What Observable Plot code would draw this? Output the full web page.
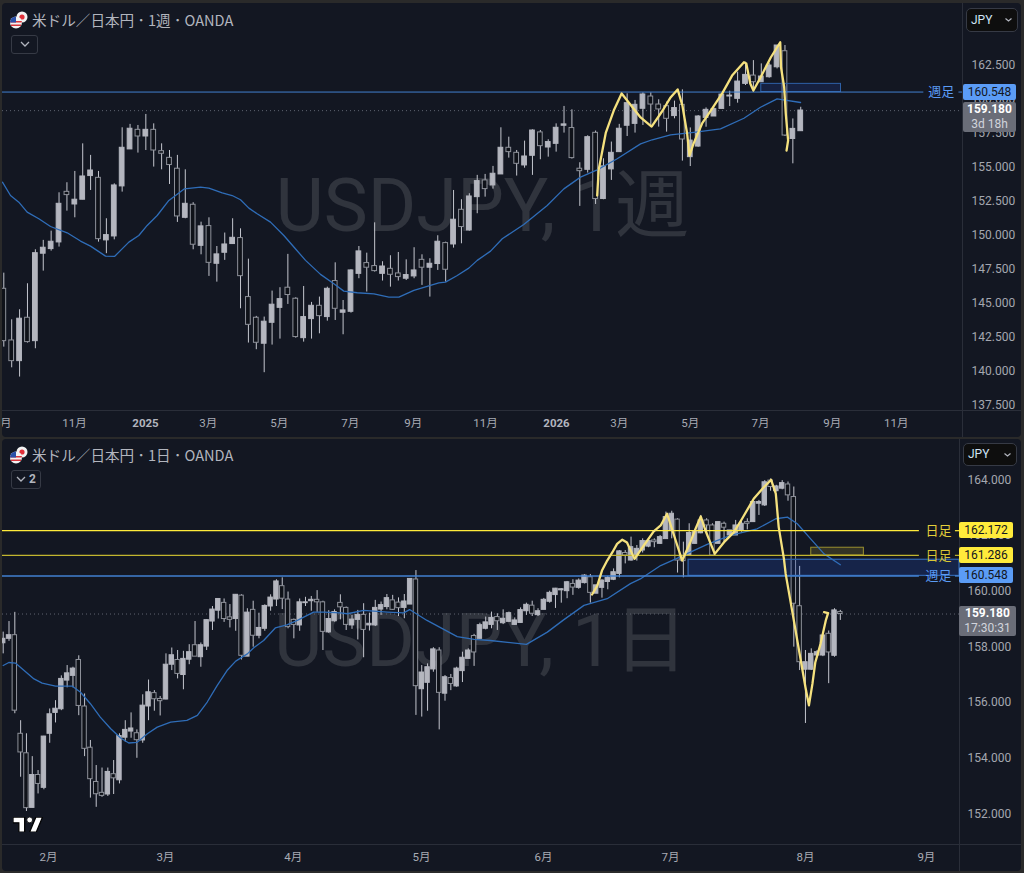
<!DOCTYPE html>
<html lang="ja">
<head>
<meta charset="utf-8">
<script src="https://cdn.jsdelivr.net/npm/d3@7"></script>
<script src="https://cdn.jsdelivr.net/npm/@observablehq/plot@0.6"></script>
<style>
html,body{margin:0;padding:0;background:#2a2a2a;}
#root{position:relative;width:1024px;height:873px;overflow:hidden;background:#2a2a2a;font-family:Roboto,"Noto Sans CJK JP",sans-serif;}
.pane{position:absolute;left:2px;width:1019px;background:#131722;border-radius:4px;}
#root svg.chart{position:absolute;left:0;}
.div{position:absolute;background:#2a2e39;}
.tag{position:absolute;box-sizing:border-box;font-size:12px;text-align:center;border-radius:2px;line-height:16px;}
.title{position:absolute;left:32px;font-size:14.6px;line-height:20px;color:#b2b5be;font-family:"Noto Sans CJK JP",sans-serif;white-space:nowrap;}
.btn{position:absolute;box-sizing:border-box;border:1px solid #363a45;border-radius:3px;color:#b2b5be;font-size:12px;}
.cur{position:absolute;box-sizing:border-box;border:1px solid #363a45;border-radius:5px;background:#0e0e0e;color:#cfe3f5;font-size:12px;padding-left:4px;}
</style>
</head>
<body>
<div id="root"></div>
<script>
// ---------- weekly panel ----------
const wkOpen=[146.08,142.28,140.76,143.95,142.23,148.66,149.00,149.49,153.21,152.28,
152.63,154.37,154.24,149.64,149.93,153.61,156.33,157.77,157.28,157.77,
156.20,155.71,154.91,151.30,152.26,149.24,150.69,147.92,148.73,149.37,
149.81,145.47,143.95,142.04,143.58,144.68,146.16,145.35,142.45,143.85,
144.83,144.00,146.65,144.32,144.39,147.18,147.97,147.75,147.18,147.55,
147.21,146.82,146.99,148.21,147.63,147.90,149.44,149.34,151.89,150.37,
152.82,154.05,153.68,154.49,156.45,156.08,155.15,155.86,157.58,156.47,
156.74,158.07,157.90,154.91,154.83,157.55,152.68,154.86,156.13,158.07,
158.21,159.32,160.22,159.63,159.51,158.78,159.61,155.76,156.54,158.65,
158.75,159.31,160.22,160.05,161.15,161.76,161.27,161.64,162.37,163.55,
157.10,157.67];
const wkClose=[142.23,140.76,143.88,142.16,148.70,149.10,149.54,152.33,152.97,152.63,
154.34,154.78,149.73,150.03,153.68,156.45,157.85,157.28,157.77,156.25,
156.01,155.18,151.40,152.33,149.32,150.67,147.99,148.61,149.34,149.83,
147.01,143.43,142.11,143.66,144.91,145.32,145.62,142.53,144.00,144.83,
144.07,146.08,144.61,144.49,147.43,148.83,147.63,147.38,147.72,147.11,
146.94,147.09,147.43,147.63,147.92,149.54,147.48,151.16,150.62,152.87,
154.00,153.41,154.54,156.45,156.13,155.27,155.81,157.72,156.57,156.87,
157.92,158.17,155.69,154.73,157.23,152.68,155.08,156.08,157.85,159.73,
159.61,160.37,159.63,159.27,158.58,159.37,157.06,156.98,158.75,159.24,
159.29,160.36,160.29,161.32,161.81,161.27,161.69,162.50,163.97,157.35,
157.84,159.19];
const wkHigh=[147.23,143.80,144.54,146.45,148.95,149.64,150.32,153.14,153.88,154.71,
156.74,155.89,154.71,151.23,153.80,157.92,158.17,158.09,158.90,158.21,
156.74,156.25,155.89,154.83,152.41,150.98,151.30,149.19,150.18,151.23,
150.49,148.26,144.05,144.00,145.91,146.16,148.61,145.42,146.25,145.08,
145.47,146.20,147.99,145.22,147.48,149.19,148.70,150.93,148.07,148.51,
148.75,148.21,149.10,148.58,148.29,149.98,149.51,153.31,152.63,153.07,
154.42,154.49,155.08,157.92,157.23,156.25,156.94,157.77,157.72,157.04,
158.21,159.49,159.24,155.35,157.33,157.68,155.64,156.87,158.17,160.42,
159.93,160.49,160.49,159.98,159.81,159.88,160.71,157.91,158.82,159.38,
159.38,160.41,160.61,162.01,162.74,162.86,162.62,162.67,163.97,163.97,
158.57,159.43];
const wkLow=[141.79,140.27,139.59,142.09,141.67,147.38,148.85,149.15,151.79,151.30,
152.63,153.31,149.51,148.66,149.68,153.19,156.33,156.06,156.25,155.03,
154.83,153.75,150.96,151.23,148.95,148.58,146.99,146.57,148.17,149.34,
144.61,142.09,141.60,139.91,141.94,142.38,144.93,142.45,142.16,142.38,
142.77,143.70,143.75,142.70,144.29,146.82,145.84,147.31,146.65,146.20,
146.65,146.69,146.82,146.33,145.47,147.43,146.57,149.07,149.39,150.32,
151.60,152.82,153.41,154.49,155.69,154.37,154.95,154.42,155.57,155.76,
156.13,157.53,155.62,152.14,154.59,152.28,152.63,154.05,156.13,157.28,
157.53,158.09,158.09,157.97,157.60,158.58,155.47,155.07,156.49,157.96,
158.75,159.31,159.48,159.73,161.03,160.54,161.27,161.57,162.25,157.28,
155.27,157.67];
const wkMaPos=[-0.17,0.85,1.9,2.96,4.44,5.92,8.03,9.72,10.99,12.89,14.03,15.85,17.11,18.17,19.44,20.92,22.9,24.93,25.99,27.68,28.94,30,31.06,32.11,33.8,35.49,36.76,38.24,40.14,41.83,43.09,44.79,46.9,48.8,50.07,51.97,54.08,55.13,55.98,57.47,58.93,60,61.69,63.17,65.9,68.87,70.98,73.09,75.2,77.74,80.7,82.18,84.5,87.45,90.83,93.8,95.9,98,100.98];
const wkMaVal=[153.92,152.94,152.45,151.72,151.23,150.66,150.2,149.59,149.22,148.48,148.46,149.51,150,150.74,151.47,152.58,153.43,153.56,153.48,153.14,152.94,152.63,152.01,151.6,150.98,150,149.15,148.17,147.14,146.45,145.91,145.79,145.71,145.47,145.47,145.96,146.33,146.52,146.57,147.06,147.6,148.17,148.85,149.76,150.81,152.21,153.43,154.29,154.83,155.64,156.74,157.04,157.4,157.59,157.84,158.62,159.43,160.05,159.78];
const wkPenPos=[75.2,75.4,76.3,77.3,78.3,79.2,80.7,82.1,83.5,84.5,85.4,86,86.6,86.9,87.4,88.5,89.6,91.1,92.3,93.8,94.1,94.6,95,95.9,97.2,98.4,98.5,98.9,99.1,99.4,99.2];
const wkPenVal=[152.94,154.85,157.57,159.19,160.44,159.78,158.68,158.01,159.19,160.15,160.74,159.56,157.5,155.88,156.74,158.24,159.19,160.51,161.76,162.74,162.65,161.18,160.66,161.62,163.09,164.21,162.37,160.9,158.97,156.99,156.25];
const wkMonthPos=[-0.15,8.96,25.9,34.9,43.9,51.9,61.05,78,87,95.9,105,113.1];
const wkMonthLab=["9月","11月","3月","5月","7月","9月","11月","3月","5月","7月","9月","11月"];
const wkYearPos=[17.96,70.05];
const wkYearLab=["2025","2026"];
const wkPriceTicks=[137.5,140,142.5,145,147.5,150,152.5,155,157.5,160,162.5];
// ---------- daily panel ----------
const dyOpen=[158.13,158.29,158.42,154.88,154.18,152.22,153.40,152.94,154.88,155.63,
155.76,156.79,156.96,157.53,155.86,154.38,153.15,152.76,152.70,153.43,
153.21,154.74,154.96,154.90,154.64,155.86,156.34,156.13,156.11,157.36,
157.53,156.99,157.54,158.06,157.63,158.01,158.91,159.30,159.58,159.06,
159.00,159.84,157.65,159.33,158.40,158.65,159.45,159.70,160.18,159.70,
158.97,158.77,159.57,159.64,159.69,159.60,158.52,158.92,159.58,159.40,
158.77,158.97,159.15,158.77,158.77,159.34,159.43,159.67,159.59,159.40,
159.52,160.42,156.48,156.71,157.19,157.87,156.32,156.88,156.58,157.13,
157.57,158.39,158.29,158.65,158.79,159.07,158.85,158.90,158.79,158.86,
159.28,159.48,159.14,159.33,159.62,159.86,160.03,160.00,160.26,160.12,
160.29,160.50,159.91,160.12,160.33,160.41,160.62,161.37,161.10,161.28,
161.46,161.60,161.82,161.70,161.87,162.18,162.57,161.25,161.28,161.70,
162.08,162.54,162.36,161.70,162.42,162.00,162.00,162.18,162.48,162.48,
163.14,163.08,163.97,163.59,163.68,163.83,163.38,159.46,157.18,157.18,
157.69,157.69,158.47,157.68,159.25];
const dyClose=[158.29,158.42,155.71,154.21,152.21,153.40,153.08,154.78,155.58,155.78,
156.85,157.05,157.22,155.88,154.34,153.25,152.71,152.65,153.51,153.28,
154.80,155.02,155.07,154.65,155.89,156.37,156.12,156.05,157.36,157.70,
157.03,157.57,157.81,157.65,158.06,158.96,159.34,159.72,159.00,158.97,
159.87,157.68,159.23,158.40,158.68,159.47,159.77,160.35,159.73,158.71,
158.79,159.60,159.60,159.69,159.60,158.54,159.00,159.25,159.42,158.79,
158.98,159.15,158.61,158.83,159.40,159.50,159.75,159.33,159.39,159.63,
160.44,156.59,157.08,157.27,157.91,156.35,156.91,156.67,157.22,157.61,
157.87,157.80,158.78,158.88,159.04,158.92,159.01,159.21,158.95,159.32,
159.51,159.19,159.28,159.69,159.94,160.09,160.07,160.32,160.13,160.38,
160.56,159.94,160.21,160.38,160.47,160.68,161.43,161.28,161.58,161.52,
161.80,161.80,161.76,161.94,162.66,162.78,161.10,161.08,162.09,162.12,
162.54,162.36,161.28,162.48,162.28,162.18,162.36,162.42,162.42,163.20,
163.20,163.91,163.74,163.76,163.88,163.44,159.55,157.45,157.45,157.75,
157.81,158.41,157.80,159.31,159.18];
const dyHigh=[158.53,158.91,159.24,155.35,154.88,154.06,153.56,154.79,155.77,156.07,
156.96,157.33,157.27,157.68,156.31,154.64,153.74,153.65,153.65,153.92,
154.88,155.35,155.63,155.02,156.28,156.81,156.43,156.22,157.75,157.96,
157.87,157.84,158.08,158.91,158.14,158.97,159.45,159.72,159.72,159.52,
159.88,159.87,159.37,159.64,159.21,159.51,159.87,160.41,160.48,159.97,
159.00,159.72,159.78,159.81,160.02,159.64,159.30,159.33,159.87,159.43,
159.13,159.31,159.55,159.21,159.67,159.61,159.88,159.85,159.76,159.88,
160.44,160.74,157.33,157.39,157.97,157.97,156.97,157.01,157.27,157.81,
157.93,158.45,158.85,159.07,159.25,159.19,159.33,159.25,159.04,159.40,
159.57,159.64,159.37,159.74,160.00,160.10,160.09,160.35,160.41,160.44,
160.59,160.60,160.21,160.41,160.53,160.80,161.46,161.46,161.94,161.64,
161.88,161.88,161.88,162.00,162.84,162.87,162.60,161.76,162.42,162.18,
162.72,162.60,162.42,162.48,162.48,162.18,162.54,162.54,162.60,163.26,
163.26,163.97,164.03,163.80,163.97,163.92,163.74,160.89,157.87,157.93,
157.87,158.47,158.57,159.37,159.31];
const dyLow=[157.75,158.20,155.60,153.32,152.09,152.22,152.72,152.87,154.54,155.27,
155.71,156.53,156.53,155.53,154.06,152.57,152.24,152.60,152.63,152.70,
153.08,154.58,154.72,154.00,154.54,155.35,155.69,155.52,156.10,157.15,
156.85,156.46,157.36,157.65,157.27,157.87,158.59,159.00,158.88,158.68,
158.56,157.53,157.65,157.99,158.29,158.56,159.28,159.45,159.34,158.65,
158.29,158.56,159.45,159.28,159.24,157.87,158.49,158.89,158.97,158.59,
158.63,158.25,157.61,158.57,158.73,159.13,159.33,159.31,159.09,159.01,
159.52,155.54,155.48,155.69,157.09,155.02,156.05,156.43,156.55,156.72,
157.57,157.30,158.28,158.61,158.65,158.59,158.80,158.88,158.77,158.85,
159.13,159.09,159.09,159.33,159.57,159.38,159.57,159.73,159.85,160.07,
160.26,159.57,159.91,159.75,160.05,160.38,160.48,160.98,161.08,161.08,
161.37,161.56,161.56,161.68,161.87,161.88,160.65,160.48,161.25,161.68,
162.06,162.06,161.28,161.70,161.76,161.94,162.00,162.12,162.20,162.48,
162.72,163.04,163.59,163.56,163.64,163.23,157.99,157.15,155.25,157.15,
157.63,157.65,156.68,157.63,158.95];
const dyMaPos=[0,0.97,2.1,3.3,5.3,6.7,9,11.9,13.3,15,16.7,18.5,20.2,21.6,23,24.8,26.5,28.8,31.6,33.4,35.1,36.8,38.5,40,42,43.1,44.8,46.8,48.8,50.6,53.4,55.2,58,59.2,62,66.1,68.9,69.9,72.9,78.1,81,83.8,90,93.6,96.4,99.9,103.9,107.9,109.6,113.1,115.7,121.1,125.1,129.7,132.9,134.9,136.6,138.9,141.2,144];
const dyMaVal=[157.33,157.44,157.42,157.21,156.85,156.7,156.59,156.59,156.37,155.96,155.48,155.06,154.73,154.55,154.57,154.88,155.12,155.3,155.36,155.54,156.02,156.61,157.15,157.49,157.75,157.97,158.23,158.68,158.79,158.95,159.25,159.25,159.22,159.19,159.31,159.25,159.22,159.34,158.95,158.37,158.27,158.23,158.09,158.53,158.97,159.49,159.73,160.27,160.44,160.92,161.16,161.68,162,162.24,162.6,162.66,162.42,161.88,161.34,160.95];
const dyPenPos=[101.3,102.2,103,103.9,104.8,105.6,106.5,107.3,108.6,110.2,111.9,113.1,114.2,115.4,116.8,118.2,119.1,120,120.8,122.4,124,125.7,127.1,129.1,130.6,132.1,132.9,133.4,134.3,134.6,135.7,136.9,138,138.6,139.2,139.7,140.6,141.5,141.9,141.2];
const dyPenVal=[159.88,160.2,160.74,161.1,161.4,161.7,161.85,161.75,161.16,161.64,162.15,162.36,162.78,162,161.1,161.76,162.24,162.68,162.18,161.34,161.76,162.12,162.6,163.32,163.68,164,163.5,162.3,161.16,160.62,159.31,157.87,156.55,155.9,156.67,157.45,158.11,158.95,159.21,159.25];
const dyMonthPos=[7.8,27.9,49.9,71.96,92.95,114.8,138,158.8];
const dyMonthLab=["2月","3月","4月","5月","6月","7月","8月","9月"];
const dyPriceTicks=[152,154,156,158,160,162,164];

const lastPrice=159.18, weeklyLevel=160.548, dailyHigh=162.172, dailyLow=161.286;

const LIGHT="#b4b6bf", DARK="#0f1219", EDGE="#8f929b", WICK="#c4c6ce";
const BLUE="#5b9cf6", LINE="#4280d0", YEL="#ffeb3b", YEL2="#c2b52f", PEN="#f5e17e", MA="#2f6db8";

function rows(o,h,l,c){return c.map((_,i)=>({i,o:o[i],h:h[i],l:l[i],c:c[i],top:Math.max(o[i],c[i]),bot:Math.min(o[i],c[i])}));}
function zip(a,b){return a.map((x,k)=>({x,y:b[k]}));}
function candles(d,half){
  return [
    Plot.ruleX(d,{x:"i",y1:"l",y2:"h",stroke:WICK,strokeWidth:1}),
    Plot.rect(d,{x1:r=>r.i-half,x2:r=>r.i+half,y1:"bot",y2:"top",
      fill:r=>r.c>=r.o?LIGHT:DARK,stroke:r=>r.c>=r.o?LIGHT:EDGE,strokeWidth:1})
  ];
}
const AXFONT={fontSize:11.5,fontFamily:'Roboto,"Noto Sans CJK JP",sans-serif'};
function xAxis(pos,lab,color,weight,pad){
  return Plot.axisX(pos,{anchor:"bottom",tickSize:0,tickPadding:pad,label:null,color,fontWeight:weight,...AXFONT,
    tickFormat:v=>lab[pos.indexOf(v)]});
}
function yAxis(ticks,pad){
  return Plot.axisY(ticks,{anchor:"right",tickSize:0,tickPadding:pad,label:null,color:"#a4a7b0",fontSize:12,fontFamily:AXFONT.fontFamily,
    tickFormat:d3.format(".3f")});
}
function wm(t){return Plot.text([t],{frameAnchor:"middle",text:d=>d,fontSize:74,fill:"#ffffff",fillOpacity:0.125,fontFamily:'Roboto,"Noto Sans CJK JP",sans-serif'});}

const wk=rows(wkOpen,wkHigh,wkLow,wkClose), dy=rows(dyOpen,dyHigh,dyLow,dyClose);
const wkX=[-0.165,121.5], dyX=[-0.12,164.5];

const chartW=Plot.plot({
  width:1024,height:438,marginLeft:2,marginRight:62,marginTop:3,marginBottom:28,
  style:{background:"transparent"},className:"c1",
  x:{domain:wkX,axis:null},y:{domain:[137.13,167.06],axis:null},
  marks:[
    wm("USDJPY, 1週"),
    yAxis(wkPriceTicks,9),
    xAxis(wkMonthPos,wkMonthLab,"#a8abb4","normal",8),
    xAxis(wkYearPos,wkYearLab,"#b2b5be","bold",8),
    Plot.ruleY([lastPrice],{stroke:"#5f6470",strokeDasharray:"1 3"}),
    ...candles(wk,0.3),
    Plot.rect([{a:96,b:106.1,lo:weeklyLevel,hi:161.15}],{x1:"a",x2:"b",y1:"lo",y2:"hi",fill:"#2962ff",fillOpacity:0.14,stroke:"#2f62a8"}),
    Plot.line(zip(wkMaPos,wkMaVal),{x:"x",y:"y",stroke:MA,strokeWidth:1.3}),
    Plot.ruleY([weeklyLevel],{x1:wkX[0],x2:116.6,stroke:LINE,strokeWidth:1}),
    Plot.ruleY([weeklyLevel],{x1:121.05,x2:wkX[1],stroke:LINE,strokeWidth:1}),
    Plot.text(["週足"],{x:118.8,y:weeklyLevel,text:d=>d,fill:BLUE,fontSize:13,fontFamily:'"Noto Sans CJK JP"'}),
    Plot.line(zip(wkPenPos,wkPenVal),{x:"x",y:"y",stroke:PEN,strokeWidth:2.3,strokeLinejoin:"round",strokeLinecap:"round"})
  ]
});
const chartD=Plot.plot({
  width:1024,height:435,marginLeft:2,marginRight:65,marginTop:2,marginBottom:29,
  style:{background:"transparent"},className:"c2",
  x:{domain:dyX,axis:null},y:{domain:[150.905,165.41],axis:null},
  marks:[
    wm("USDJPY, 1日"),
    yAxis(dyPriceTicks,8),
    xAxis(dyMonthPos,dyMonthLab,"#a8abb4","normal",8),
    Plot.ruleY([lastPrice],{stroke:"#5f6470",strokeDasharray:"1 3"}),
    ...candles(dy,0.38),
    Plot.rect([{a:139,b:148.05,lo:dailyLow,hi:161.56}],{x1:"a",x2:"b",y1:"lo",y2:"hi",fill:"#ffeb3b",fillOpacity:0.14,stroke:"#9a9030"}),
    Plot.rect([{a:117.9,b:dyX[1],lo:weeklyLevel,hi:161.127}],{x1:"a",x2:"b",y1:"lo",y2:"hi",fill:"#2962ff",fillOpacity:0.18,stroke:"#2f62a8",strokeWidth:1.3}),
    Plot.line(zip(dyMaPos,dyMaVal),{x:"x",y:"y",stroke:MA,strokeWidth:1.3}),
    Plot.ruleY([weeklyLevel],{x1:dyX[0],x2:157.6,stroke:LINE,strokeWidth:1.5}),
    Plot.ruleY([weeklyLevel],{x1:163.8,x2:dyX[1],stroke:LINE,strokeWidth:1.5}),
    Plot.ruleY([dailyHigh],{x1:dyX[0],x2:157.6,stroke:YEL,strokeWidth:1.2}),
    Plot.ruleY([dailyHigh],{x1:163.8,x2:dyX[1],stroke:YEL,strokeWidth:1.2}),
    Plot.ruleY([dailyLow],{x1:dyX[0],x2:157.6,stroke:YEL2,strokeWidth:1.2}),
    Plot.ruleY([dailyLow],{x1:163.8,x2:dyX[1],stroke:YEL2,strokeWidth:1.2}),
    Plot.text(["日足"],{x:160.9,y:dailyHigh,text:d=>d,fill:"#e3cf3a",fontSize:13,fontFamily:'"Noto Sans CJK JP"'}),
    Plot.text(["日足"],{x:160.9,y:dailyLow,text:d=>d,fill:"#d8c636",fontSize:13,fontFamily:'"Noto Sans CJK JP"'}),
    Plot.text(["週足"],{x:160.9,y:weeklyLevel,text:d=>d,fill:BLUE,fontSize:13,fontFamily:'"Noto Sans CJK JP"'}),
    Plot.line(zip(dyPenPos,dyPenVal),{x:"x",y:"y",stroke:PEN,strokeWidth:2.3,strokeLinejoin:"round",strokeLinecap:"round"})
  ]
});

const root=document.getElementById("root");
function add(html){const t=document.createElement("div");t.innerHTML=html;while(t.firstChild)root.appendChild(t.firstChild);}
add('<div class="pane" style="top:3px;height:434px"></div><div class="pane" style="top:439px;height:432px"></div>');
add('<div class="div" style="left:2px;top:410px;width:1019px;height:1px"></div><div class="div" style="left:962px;top:3px;width:1px;height:434px"></div>');
add('<div class="div" style="left:2px;top:844px;width:1019px;height:1px"></div><div class="div" style="left:959px;top:439px;width:1px;height:432px"></div>');
chartW.classList.add("chart");chartD.classList.add("chart");
chartW.style.top="0px";chartD.style.top="438px";
root.appendChild(chartW);root.appendChild(chartD);
add('<div style="position:absolute;left:0;top:0;width:2px;height:873px;background:#2a2a2a"></div>');

function flag(y){return `<svg style="position:absolute;left:9px;top:${y}px" width="20" height="20" viewBox="0 0 20 20"><circle cx="13" cy="7" r="5.5" fill="#f2f2f2"/><circle cx="13" cy="7" r="2.6" fill="#e0303a"/><circle cx="7" cy="12.5" r="6" fill="#f2f2f2"/><path d="M1.2 11h11.6v1.6H1.2zM2 14.4h10v1.6H2z" fill="#d8343c"/><path d="M1 12.5a6 6 0 0 1 6-6v6z" fill="#2a4fa8"/></svg>`;}
add(flag(10)+`<div class="title" style="top:10px">米ドル／日本円 ･ 1週 ･ OANDA</div>`);
add(flag(445)+`<div class="title" style="top:445px">米ドル／日本円 ･ 1日 ･ OANDA</div>`);
const chev='<svg width="10" height="6" viewBox="0 0 10 6" style="vertical-align:1px"><path d="M1 1l4 4 4-4" fill="none" stroke="#b2b5be" stroke-width="1.3"/></svg>';
add(`<div class="btn" style="left:11px;top:35px;width:27px;height:19px;text-align:center;line-height:17px">${chev}</div>`);
add(`<div class="btn" style="left:11px;top:470px;width:30px;height:19px;text-align:center;line-height:17px">${chev} <b>2</b></div>`);
const car='<svg width="7" height="4" viewBox="0 0 7 4" style="position:absolute;right:5px;top:9px"><path d="M.5.5l3 2.5 3-2.5" fill="none" stroke="#b2b5be" stroke-width="1.2"/></svg>';
add(`<div class="cur" style="left:966px;top:8px;width:52px;height:24px;line-height:22px">JPY${car}</div>`);
add(`<div class="cur" style="left:963px;top:443px;width:54px;height:23px;line-height:21px">JPY${car}</div>`);
function tag(y0,chart,v,left,w,bg,fg,txt){
  const y=y0+chart.scale("y").apply(v);
  add(`<div class="tag" style="left:${left}px;top:${y-8}px;width:${w}px;height:16px;background:${bg};color:${fg}">${txt}</div>`);
}
function priceBox(y0,chart,left,w,txt2){
  const y=y0+chart.scale("y").apply(lastPrice);
  add(`<div class="tag" style="left:${left}px;top:${y-8}px;width:${w}px;height:30px;background:#6a6d78;line-height:15px;padding-top:0"><div style="color:#fff;font-weight:700">${d3.format(".3f")(lastPrice)}</div><div style="color:#d1d4dc">${txt2}</div></div>`);
}
priceBox(0,chartW,963,53,"3d 18h");
tag(0,chartW,weeklyLevel,963,53,BLUE,"#131722",d3.format(".3f")(weeklyLevel));
priceBox(438,chartD,959,57,"17:30:31");
tag(438,chartD,dailyHigh,959,54,YEL,"#131722",d3.format(".3f")(dailyHigh));
tag(438,chartD,dailyLow,959,54,YEL,"#131722",d3.format(".3f")(dailyLow));
tag(438,chartD,weeklyLevel,959,54,BLUE,"#131722",d3.format(".3f")(weeklyLevel));
add('<svg style="position:absolute;left:13px;top:817px" width="30" height="15" viewBox="0 4 36 18"><path d="M14 22H7V11H0V4h14zM28 22h-8l7.5-18h8z" fill="#fff" stroke="#000" stroke-width="1.5"/><circle cx="20" cy="7.5" r="3.5" fill="#fff" stroke="#000"/></svg>');
</script>
</body>
</html>
